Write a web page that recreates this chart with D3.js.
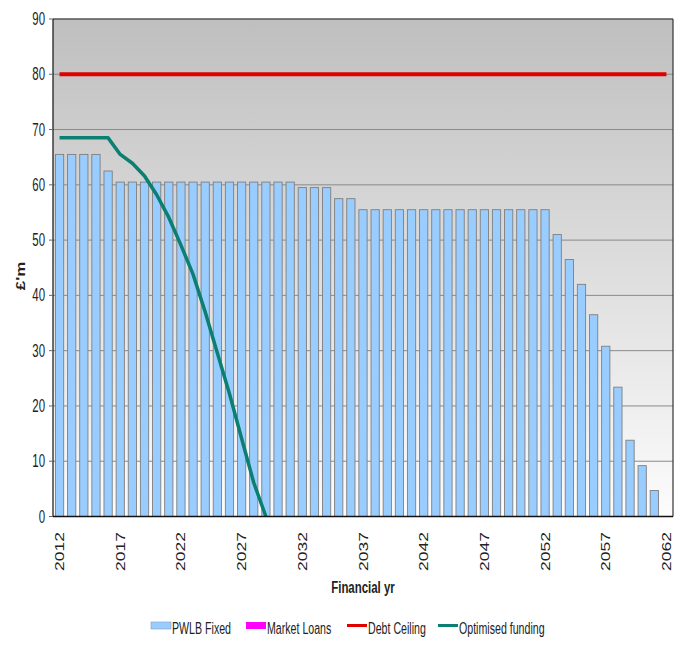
<!DOCTYPE html>
<html>
<head>
<meta charset="utf-8">
<script src="https://cdn.jsdelivr.net/npm/d3@7"></script>
<style>
  body { margin: 0; background: #fff; }
  text { font-family: "Liberation Sans", Arial, sans-serif; fill: #222; }
</style>
</head>
<body>
<svg class="chart"></svg>
<script>
const years = [2012, 2013, 2014, 2015, 2016, 2017, 2018, 2019, 2020, 2021,
    2022, 2023, 2024, 2025, 2026, 2027, 2028, 2029, 2030, 2031,
    2032, 2033, 2034, 2035, 2036, 2037, 2038, 2039, 2040, 2041,
    2042, 2043, 2044, 2045, 2046, 2047, 2048, 2049, 2050, 2051,
    2052, 2053, 2054, 2055, 2056, 2057, 2058, 2059, 2060, 2061, 2062];

const pwlbFixed = [65.5, 65.5, 65.5, 65.5, 62.5, 60.5, 60.5, 60.5, 60.5, 60.5,
    60.5, 60.5, 60.5, 60.5, 60.5, 60.5, 60.5, 60.5, 60.5, 60.5,
    59.5, 59.5, 59.5, 57.5, 57.5, 55.5, 55.5, 55.5, 55.5, 55.5,
    55.5, 55.5, 55.5, 55.5, 55.5, 55.5, 55.5, 55.5, 55.5, 55.5,
    55.5, 51, 46.5, 42, 36.5, 30.8, 23.4, 13.8, 9.2, 4.7, 0];

const debtCeiling = [80, 80, 80, 80, 80, 80, 80, 80, 80, 80,
    80, 80, 80, 80, 80, 80, 80, 80, 80, 80,
    80, 80, 80, 80, 80, 80, 80, 80, 80, 80,
    80, 80, 80, 80, 80, 80, 80, 80, 80, 80,
    80, 80, 80, 80, 80, 80, 80, 80, 80, 80, 80];

// only runs to 2029, where it reaches zero
const optimised = [68.5, 68.5, 68.5, 68.5, 68.5, 65.5, 63.9, 61.6, 58.2, 54.1,
    49.1, 43.8, 37.0, 29.6, 22.2, 14.1, 6.1, 0];

const yTicks = [0, 10, 20, 30, 40, 50, 60, 70, 80, 90];
const xLabels = [2012, 2017, 2022, 2027, 2032, 2037, 2042, 2047, 2052, 2057, 2062];

const legendItems = [
    {name: 'PWLB Fixed', type: 'rect', color: '#99ccff', x: 151},
    {name: 'Market Loans', type: 'rect', color: '#ff00ff', x: 246},
    {name: 'Debt Ceiling', type: 'line', color: '#e00000', x: 347},
    {name: 'Optimised funding', type: 'line', color: '#0a7f72', x: 438}
];

const w = 682;
const h = 646;
const plotL = 53, plotR = 673, plotT = 19, plotB = 516.5;

const svg = d3.select('svg.chart').attr('width', w).attr('height', h);

const x = d3.scaleBand().domain(years).range([plotL, plotR])
    .paddingInner(0.32).paddingOuter(0.2);
const y = d3.scaleLinear().domain([0, 90]).range([plotB, plotT]);
const cx = yr => x(yr) + x.bandwidth() / 2;

// plot background, grey at top fading to white
const grad = svg.append('defs').append('linearGradient')
    .attr('id', 'bg').attr('x1', 0).attr('y1', 0).attr('x2', 0).attr('y2', 1);
grad.append('stop').attr('offset', '0%').attr('stop-color', '#bfbfbf');
grad.append('stop').attr('offset', '100%').attr('stop-color', '#fcfcfc');

svg.append('rect')
    .attr('x', plotL).attr('y', plotT)
    .attr('width', plotR - plotL).attr('height', plotB - plotT)
    .attr('fill', 'url(#bg)');

// gridlines
svg.append('g')
    .selectAll('line')
    .data(yTicks.slice(1))
    .enter().append('line')
    .attr('x1', plotL).attr('x2', plotR)
    .attr('y1', d => y(d)).attr('y2', d => y(d))
    .attr('stroke', d => d === 90 ? '#555' : '#8a8a8a')
    .attr('stroke-width', d => d === 90 ? 1.5 : 1);

// right border
svg.append('line')
    .attr('x1', plotR).attr('x2', plotR).attr('y1', plotT).attr('y2', plotB)
    .attr('stroke', '#333').attr('stroke-width', 1.2);

// bars
svg.append('g')
    .selectAll('rect')
    .data(years.map((yr, i) => ({yr: yr, v: pwlbFixed[i]})).filter(d => d.v > 0))
    .enter().append('rect')
    .attr('x', d => x(d.yr))
    .attr('y', d => y(d.v))
    .attr('width', x.bandwidth())
    .attr('height', d => y(0) - y(d.v))
    .attr('fill', '#99ccff')
    .attr('stroke', '#7f7f7f')
    .attr('stroke-width', 0.9);

// debt ceiling
const line = d3.line()
    .x(d => cx(d.yr))
    .y(d => y(d.v));

svg.append('path')
    .datum(years.map((yr, i) => ({yr: yr, v: debtCeiling[i]})))
    .attr('d', line)
    .attr('fill', 'none')
    .attr('stroke', '#e00000')
    .attr('stroke-width', 4);

svg.append('path')
    .datum(optimised.map((v, i) => ({yr: years[i], v: v})))
    .attr('d', line)
    .attr('fill', 'none')
    .attr('stroke', '#0a7f72')
    .attr('stroke-width', 3.5)
    .attr('stroke-linejoin', 'round');

// axes lines
svg.append('line')
    .attr('x1', plotL).attr('x2', plotL).attr('y1', plotT).attr('y2', plotB)
    .attr('stroke', '#111').attr('stroke-width', 1.2);
svg.append('line')
    .attr('x1', plotL).attr('x2', plotR).attr('y1', plotB).attr('y2', plotB)
    .attr('stroke', '#111').attr('stroke-width', 1.5);

// y ticks and labels
const yg = svg.append('g');
yg.selectAll('line')
    .data(yTicks)
    .enter().append('line')
    .attr('x1', plotL - 4).attr('x2', plotL)
    .attr('y1', d => y(d)).attr('y2', d => y(d))
    .attr('stroke', '#666');
yg.selectAll('text')
    .data(yTicks)
    .enter().append('text')
    .attr('transform', d => translate(45, y(d) + 6) + ' scale(0.88,1.35)')
    .attr('text-anchor', 'end')
    .attr('font-size', 13)
    .attr('fill', '#333')
    .text(d => d);

// x labels, rotated
svg.append('g')
    .selectAll('text')
    .data(xLabels)
    .enter().append('text')
    .attr('transform', d => translate(cx(d) + 4.5, 532) + ' scale(1,1.4) rotate(-90)')
    .attr('text-anchor', 'end')
    .attr('font-size', 12.5)
    .attr('fill', '#333')
    .text(d => d);

// axis titles
svg.append('text')
    .attr('transform', translate(363, 593) + ' scale(0.88,1.3)')
    .attr('text-anchor', 'middle')
    .attr('font-size', 13)
    .attr('font-weight', 'bold')
    .attr('fill', '#111')
    .text('Financial yr');

svg.append('text')
    .attr('transform', translate(25, 276) + ' scale(1,1.3) rotate(-90)')
    .attr('text-anchor', 'middle')
    .attr('font-size', 13)
    .attr('font-weight', 'bold')
    .attr('fill', '#111')
    .text('£\'m');

// legend
const lg = svg.append('g')
    .selectAll('g')
    .data(legendItems)
    .enter().append('g')
    .attr('transform', d => translate(d.x, 0));

lg.filter(d => d.type === 'rect').append('rect')
    .attr('x', 0).attr('y', 622).attr('width', 20).attr('height', 7)
    .attr('fill', d => d.color)
    .attr('stroke', d => d.color === '#99ccff' ? '#7f9fbf' : 'none')
    .attr('stroke-width', 0.6);

lg.filter(d => d.type === 'line').append('line')
    .attr('x1', 0).attr('x2', 20).attr('y1', 625.5).attr('y2', 625.5)
    .attr('stroke', d => d.color)
    .attr('stroke-width', 3);

lg.append('text')
    .attr('transform', translate(21, 634) + ' scale(0.85,1.3)')
    .attr('font-size', 12.5)
    .attr('fill', '#111')
    .text(d => d.name);

function translate(a, b) {
    return `translate(${a}, ${b})`;
}
</script>
</body>
</html>
